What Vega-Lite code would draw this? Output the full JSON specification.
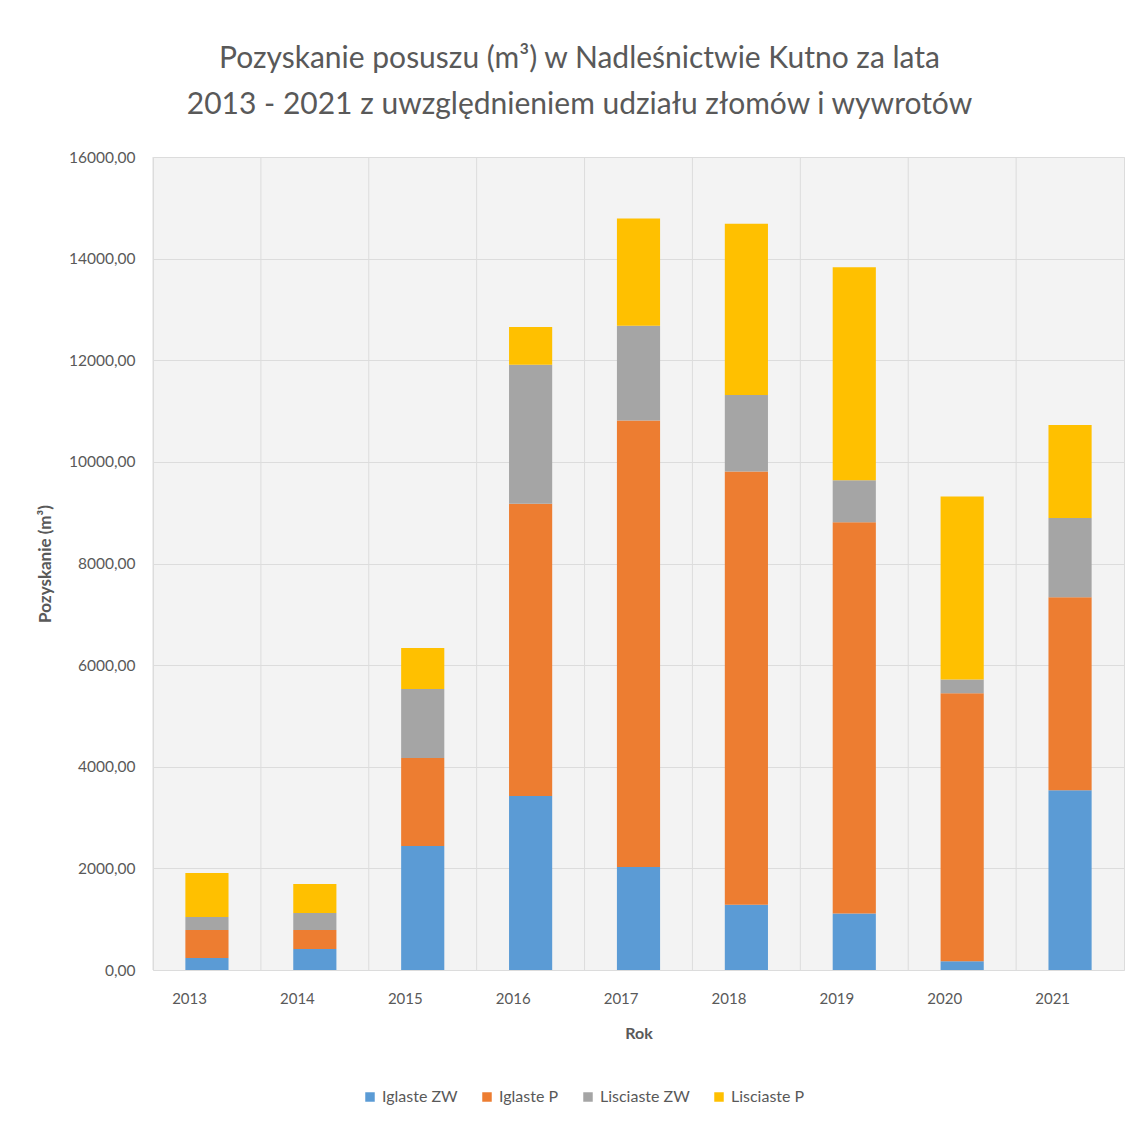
{
  "$schema": "https://vega.github.io/schema/vega-lite/v6.json",
  "width": 971,
  "height": 813,
  "autosize": "none",
  "padding": {"left": 153, "top": 157, "right": 11, "bottom": 157},
  "background": "white",
  "title": {
    "text": ["Pozyskanie posuszu (m³) w Nadleśnictwie Kutno za lata", "2013 - 2021 z uwzględnieniem udziału złomów i wywrotów"],
    "font": "Lato",
    "fontSize": 30,
    "fontWeight": "normal",
    "color": "#595959",
    "lineHeight": 46,
    "anchor": "middle",
    "dx": -59,
    "offset": 30
  },
  "data": {
    "values": [
      {"year": "2013", "series": "Iglaste ZW", "value": 236},
      {"year": "2013", "series": "Iglaste P", "value": 551},
      {"year": "2013", "series": "Lisciaste ZW", "value": 256},
      {"year": "2013", "series": "Lisciaste P", "value": 866},
      {"year": "2014", "series": "Iglaste ZW", "value": 413},
      {"year": "2014", "series": "Iglaste P", "value": 374},
      {"year": "2014", "series": "Lisciaste ZW", "value": 335},
      {"year": "2014", "series": "Lisciaste P", "value": 570},
      {"year": "2015", "series": "Iglaste ZW", "value": 2440},
      {"year": "2015", "series": "Iglaste P", "value": 1732},
      {"year": "2015", "series": "Lisciaste ZW", "value": 1358},
      {"year": "2015", "series": "Lisciaste P", "value": 807},
      {"year": "2016", "series": "Iglaste ZW", "value": 3424},
      {"year": "2016", "series": "Iglaste P", "value": 5753},
      {"year": "2016", "series": "Lisciaste ZW", "value": 2732},
      {"year": "2016", "series": "Lisciaste P", "value": 745},
      {"year": "2017", "series": "Iglaste ZW", "value": 2025},
      {"year": "2017", "series": "Iglaste P", "value": 8791},
      {"year": "2017", "series": "Lisciaste ZW", "value": 1863},
      {"year": "2017", "series": "Lisciaste P", "value": 2111},
      {"year": "2018", "series": "Iglaste ZW", "value": 1286},
      {"year": "2018", "series": "Iglaste P", "value": 8524},
      {"year": "2018", "series": "Lisciaste ZW", "value": 1504},
      {"year": "2018", "series": "Lisciaste P", "value": 3372},
      {"year": "2019", "series": "Iglaste ZW", "value": 1114},
      {"year": "2019", "series": "Iglaste P", "value": 7696},
      {"year": "2019", "series": "Lisciaste ZW", "value": 828},
      {"year": "2019", "series": "Lisciaste P", "value": 4191},
      {"year": "2020", "series": "Iglaste ZW", "value": 170},
      {"year": "2020", "series": "Iglaste P", "value": 5278},
      {"year": "2020", "series": "Lisciaste ZW", "value": 269},
      {"year": "2020", "series": "Lisciaste P", "value": 3601},
      {"year": "2021", "series": "Iglaste ZW", "value": 3539},
      {"year": "2021", "series": "Iglaste P", "value": 3797},
      {"year": "2021", "series": "Lisciaste ZW", "value": 1561},
      {"year": "2021", "series": "Lisciaste P", "value": 1829}
    ]
  },
  "transform": [
    {"calculate": "indexof(['Iglaste ZW', 'Iglaste P', 'Lisciaste ZW', 'Lisciaste P'], datum.series)", "as": "stack_rank"}
  ],
  "layer": [
    {
      "transform": [{"aggregate": [{"op": "count", "as": "n"}], "groupby": ["year"]}],
      "mark": {"type": "rule", "color": "#dcdcdc", "strokeWidth": 1},
      "encoding": {
        "x": {"field": "year", "type": "ordinal", "bandPosition": -0.75}
      }
    },
    {
      "mark": {"type": "bar"},
      "encoding": {
        "x": {
          "field": "year",
          "type": "ordinal",
          "scale": {"paddingInner": 0.6, "paddingOuter": 0.3},
          "axis": {
            "title": "Rok",
            "labelAngle": 0,
            "labelFont": "Lato",
            "labelFontSize": 15,
            "labelColor": "#595959",
            "labelPadding": 28,
            "ticks": false,
            "domain": false,
            "grid": false,
            "titleFont": "Lato",
            "titleFontSize": 16,
            "titleFontWeight": "bold",
            "titleColor": "#595959",
            "titlePadding": 19
          }
        },
        "y": {
          "field": "value",
          "type": "quantitative",
          "aggregate": "sum",
          "stack": "zero",
          "scale": {"domain": [0, 16000], "nice": false},
          "axis": {
            "title": "Pozyskanie (m³)",
            "values": [0, 2000, 4000, 6000, 8000, 10000, 12000, 14000, 16000],
            "labelExpr": "replace(format(datum.value, '.2f'), '.', ',')",
            "labelFont": "Lato",
            "labelFontSize": 15.5,
            "labelColor": "#595959",
            "labelPadding": 18,
            "ticks": false,
            "domain": false,
            "grid": true,
            "gridColor": "#dcdcdc",
            "titleFont": "Lato",
            "titleFontSize": 17,
            "titleFontWeight": "bold",
            "titleColor": "#595959",
            "titlePadding": 14
          }
        },
        "color": {
          "field": "series",
          "type": "nominal",
          "sort": ["Iglaste ZW", "Iglaste P", "Lisciaste ZW", "Lisciaste P"],
          "scale": {
            "domain": ["Iglaste ZW", "Iglaste P", "Lisciaste ZW", "Lisciaste P"],
            "range": ["#5B9BD5", "#ED7D31", "#A5A5A5", "#FFC000"]
          },
          "legend": {
            "title": null,
            "orient": "none",
            "direction": "horizontal",
            "legendX": 209,
            "legendY": 932,
            "symbolType": "square",
            "symbolSize": 90,
            "symbolStrokeWidth": 0,
            "labelFont": "Lato",
            "labelFontSize": 16,
            "labelColor": "#595959",
            "labelOffset": 4,
            "columnPadding": 21
          }
        },
        "order": {"field": "stack_rank", "type": "quantitative", "sort": "ascending"}
      }
    }
  ],
  "config": {
    "view": {"stroke": "#dcdcdc", "fill": "#f3f3f3"}
  }
}
